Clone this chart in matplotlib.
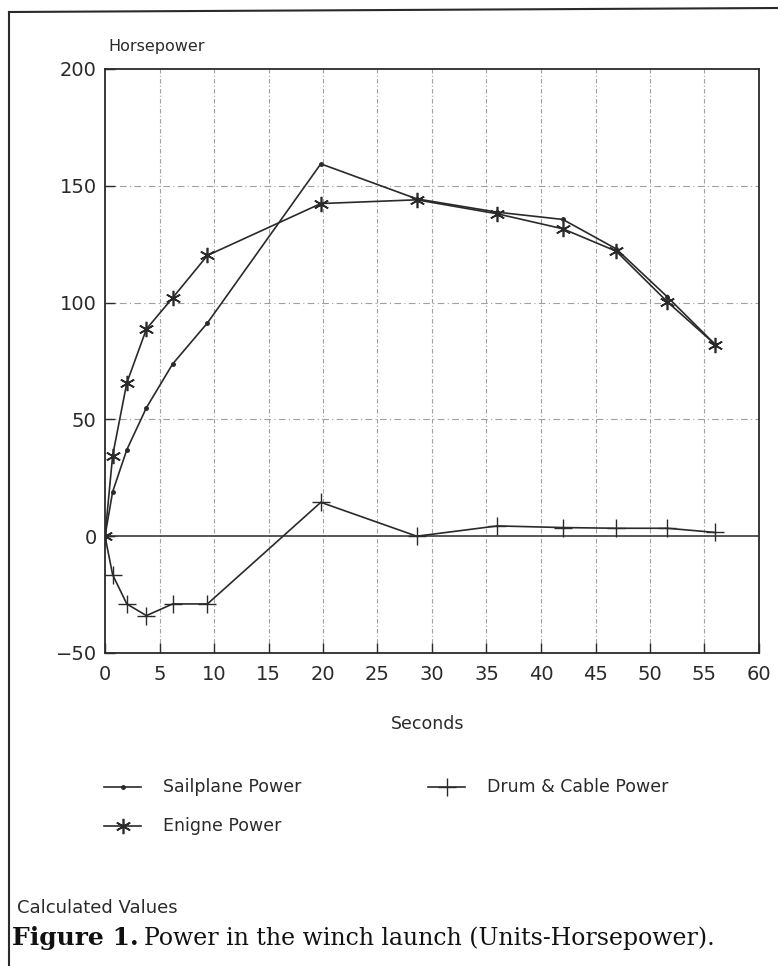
import matplotlib as mpl
mpl.use('Agg')

import matplotlib.pyplot as plt
from matplotlib.lines import Line2D

# values
seconds = [0, 0.7, 2.0, 3.8, 6.2, 9.4, 19.8, 28.6, 36.0, 42.0, 46.9, 51.6, 56.0]
sailplane = [0, 19, 37, 55, 73.7, 91.3, 159.4, 144.4, 138.7, 135.6, 123, 102.4, 82]
engine = [0, 34.5, 65.6, 88.7, 102, 120.2, 142.4, 144, 138, 131.6, 122, 100.3, 82]
drum = [0, -16.5, -29, -34, -29, -29, 14.5, 0, 4.4, 3.7, 3.4, 3.4, 1.6]

xticks = list(range(0, 61, 5))
yticks = [-50, 0, 50, 100, 150, 200]

ink = '#2a2a2a'
W, H = 778, 966

fig = plt.figure(figsize=(W / 100, H / 100), dpi=100)
ax = fig.add_axes([105 / W, 1 - 653 / H, 654 / W, 584 / H])

for x in xticks[1:-1]:
    ax.axvline(x, color='#a0a0a0', lw=0.8, ls=(0, (4, 2, 1, 2)), zorder=1)
for y in [50, 100, 150]:
    ax.axhline(y, color='#a0a0a0', lw=0.8, ls=(0, (6, 3, 1, 3)), zorder=1)
ax.axhline(0, color=ink, lw=1.1, zorder=2)

sail_style = dict(color=ink, lw=1.2, marker='o', ms=2.5)
eng_style = dict(color=ink, lw=1.2, marker=(6, 2, 0), ms=11, mew=1.2)
drum_style = dict(color=ink, lw=1.2, marker='+', ms=13, mew=1.0)

ax.plot(seconds, sailplane, zorder=3, **sail_style)
ax.plot(seconds, engine, zorder=3, **eng_style)
ax.plot(seconds, drum, zorder=3, **drum_style)

ax.set_xlim(0, 60)
ax.set_ylim(-50, 200)
ax.set_xticks(xticks)
ax.set_yticks(yticks)
ax.set_yticklabels(['\u221250', '0', '50', '100', '150', '200'])
ax.tick_params(direction='in', length=7, width=1, color=ink, labelsize=14,
               labelcolor=ink)
ax.tick_params(axis='y', pad=6)
ax.tick_params(axis='x', pad=9)
for s in ax.spines.values():
    s.set_color(ink)
    s.set_linewidth(1.3)

fig.text(108 / W, 1 - 47 / H, 'Horsepower', fontsize=11.5, color=ink, va='center')
fig.text(428 / W, 1 - 724 / H, 'Seconds', fontsize=12.5, color=ink, ha='center', va='center')

# legend, placed by hand like the original two-column block
legend_items = [('Sailplane Power', sail_style, 104, 787),
                ('Drum & Cable Power', drum_style, 428, 787),
                ('Enigne Power', eng_style, 104, 826)]
for label, style, x0, y0 in legend_items:
    st = dict(style)
    mk = st.pop('marker')
    ms = st.pop('ms')
    mew = st.pop('mew', 1.0)
    yy = 1 - y0 / H
    fig.add_artist(Line2D([x0 / W, (x0 + 37) / W], [yy, yy], **st))
    fig.add_artist(Line2D([(x0 + 18.5) / W], [yy], marker=mk, ms=ms, mew=mew,
                          color=st['color'], ls='none'))
    fig.text((x0 + 59) / W, yy, label, fontsize=12.5, color=ink, va='center')

fig.text(17 / W, 1 - 908 / H, 'Calculated Values', fontsize=13, color=ink, va='center')
fig.text(12 / W, 1 - 938 / H, 'Figure 1.', fontsize=18, color='#111', va='center',
         family='DejaVu Serif', weight='bold')
fig.text(144 / W, 1 - 938 / H, 'Power in the winch launch (Units-Horsepower).',
         fontsize=17, color='#111', va='center', family='DejaVu Serif')

# outer frame of the scanned figure
fig.add_artist(Line2D([9 / W, 9 / W], [0, 1 - 12 / H], color=ink, lw=1.5))
fig.add_artist(Line2D([9 / W, 1], [1 - 12 / H, 1 - 8 / H], color=ink, lw=1.5))

plt.savefig('out.png', dpi=100)
